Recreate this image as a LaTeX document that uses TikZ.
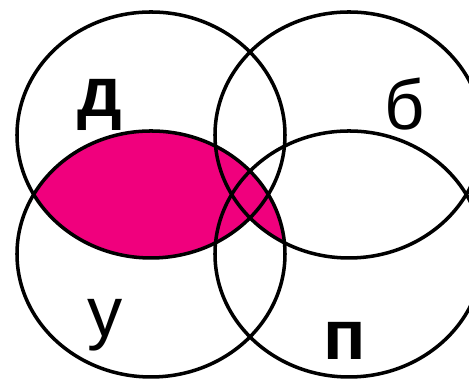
\documentclass[tikz,border=0pt]{standalone}
\usepackage{fontspec}
\setmainfont{Liberation Sans}
\definecolor{lenspink}{RGB}{240,0,125}

\begin{document}
\begin{tikzpicture}[x=0.01cm, y=-0.01cm, line width=1pt,
    lbl/.style={anchor=base, font=\fontsize{20}{24}\selectfont},
    lblbold/.style={anchor=base, font=\fontsize{20}{24}\selectfont\bfseries}]
    \useasboundingbox (0,0) rectangle (469,380);
    \clip (0,0) rectangle (469,380);
    % shaded part: y and (d or b)
    \begin{scope}
        \clip (151,254) ellipse [x radius=134, y radius=123];
        \fill[lenspink] (151,135) ellipse [x radius=134, y radius=123];
        \fill[lenspink] (349,135) ellipse [x radius=134, y radius=123];
    \end{scope}
    \foreach \cx/\cy in {151/135, 349/135, 151/254, 349/254}
    {
        \draw (\cx,\cy) ellipse [x radius=134, y radius=123];
    }
    \node[lblbold] (d) at (100,117) {д};
    \node[lbl] (b) at (405,130) {б};
    \node[lbl] (u) at (105,337) {у};
    \node[lblbold] (p) at (345,360) {п};
\end{tikzpicture}
\end{document}
